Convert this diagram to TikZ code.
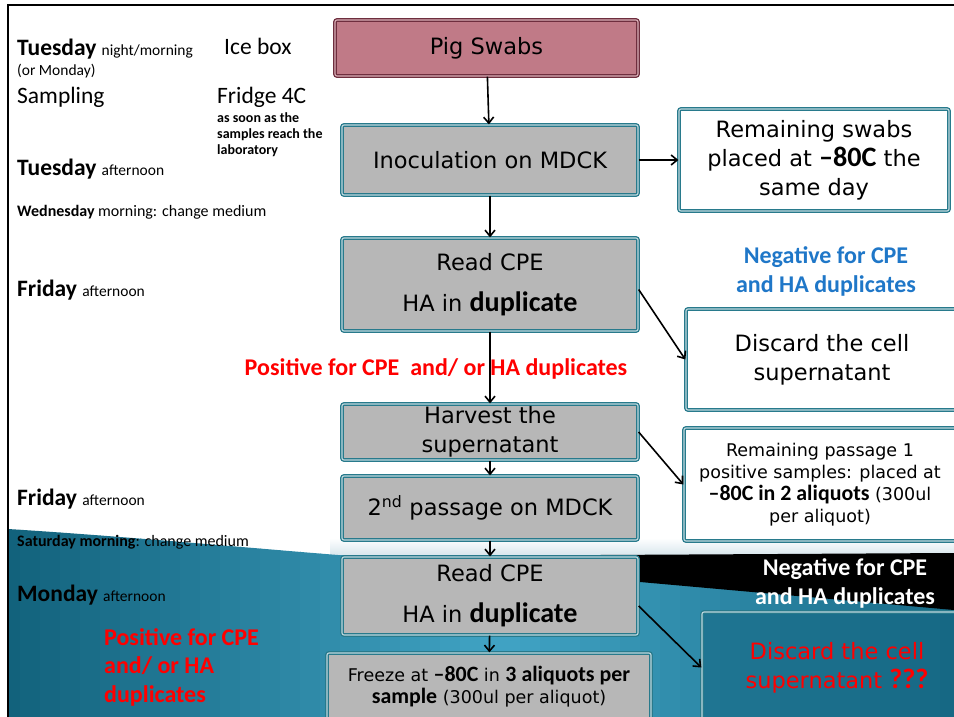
\documentclass[tikz,border=0pt]{standalone}
\usepackage{fontspec}
\setmainfont{Carlito}
\newfontfamily\boxfont{DejaVu Sans}
\newfontfamily\boldcal[Scale=1.25,Ligatures=TeX]{Carlito}
\usetikzlibrary{arrows.meta}

\definecolor{tealb}{RGB}{40,122,140}
\definecolor{boxgray}{RGB}{183,183,183}
\definecolor{swabfill}{RGB}{192,122,135}
\definecolor{swabline}{RGB}{110,46,62}
\definecolor{negblue}{RGB}{31,119,200}
\definecolor{bgdark}{RGB}{18,98,124}
\definecolor{bglight}{RGB}{66,165,198}
\definecolor{bgright}{RGB}{22,104,132}
\definecolor{posred}{RGB}{255,0,0}
\definecolor{paleband}{RGB}{214,229,236}

% bold Calibri-like words inside the boxes
\newcommand{\hb}[1]{{\boldcal\bfseries #1}}

\tikzset{
  stage/.style={draw=tealb, line width=1.3pt, double=white!70!tealb, double distance=1.1pt,
    fill=boxgray, rounded corners=2pt, align=center, inner sep=0pt,
    font=\boxfont\fontsize{22.5}{29}\selectfont},
  storebox/.style={stage, fill=white},
  smalltext/.style={font=\boxfont\fontsize{17.5}{22}\selectfont},
  day/.style={anchor=base west, inner sep=0pt, font=\fontsize{15.5}{18}\selectfont},
  bigday/.style={font=\fontsize{23.5}{26}\selectfont},
  note/.style={anchor=base, inner sep=0pt, font=\bfseries\fontsize{24}{28.5}\selectfont},
  arr/.style={line width=1.6pt, -{Straight Barb[length=6pt,width=10pt]}},
}

\newcommand{\dayname}[1]{{\fontsize{23.5}{26}\selectfont\bfseries #1}}

\begin{document}
\begin{tikzpicture}[x=1pt,y=-1pt]
\useasboundingbox (0,0) rectangle (954,717);

% slide background
\fill[white] (0,0) rectangle (954,717);
\shade[top color=white, bottom color=paleband] (330,538) rectangle (954,556);
\begin{scope}
  \clip (8,529) .. controls (120,536) and (250,548) .. (338,555) -- (954,555) -- (954,717) -- (8,717) -- cycle;
  % teal band, lighter towards the middle
  \foreach \i in {0,...,24} {
    \pgfmathsetmacro\p{\i*4}
    \fill[bglight!\p!bgdark] (\i*20,520) rectangle (\i*20+21,717);
  }
  \foreach \i in {25,...,48} {
    \pgfmathsetmacro\p{100-(\i-24)*4.2}
    \fill[bglight!\p!bgright] (\i*20,520) rectangle (\i*20+21,717);
  }
\end{scope}
\fill[black] (600,555) -- (954,553) -- (954,610) -- (640,582) -- cycle;
\draw[line width=2pt] (8,717) -- (8,5) -- (954,5);

% days on the left
\node[day] (tue1) at (17,56) {\dayname{Tuesday }night/morning};
\node[day] (ormon) at (17,76) {(or Monday)};
\node[day, bigday] (sampl) at (17,103) {Sampling};
\node[day, bigday] (icebox) at (224,55) {Ice box};
\node[day, bigday] (fridge) at (217,103) {Fridge 4C};
\node[day, anchor=north west, align=left, font=\bfseries\fontsize{14}{16}\selectfont] (asap) at (217,112)
  {as soon as the\\samples reach the\\laboratory};
\node[day] (tue2) at (17,175) {\dayname{Tuesday }afternoon};
\node[day, font=\fontsize{16}{18}\selectfont] (wed) at (17,216) {\textbf{Wednesday} morning: change medium};
\node[day] (fri1) at (17,296) {\dayname{Friday }afternoon};
\node[day] (fri2) at (17,505) {\dayname{Friday }afternoon};
\node[day, font=\fontsize{16}{18}\selectfont] (sat) at (17,546) {\textbf{Saturday morning}: change medium};
\node[day] (mon) at (17,601) {\dayname{Monday }afternoon};

% flow boxes
\node[stage, fill=swabfill, draw=swabline, double=swabfill!60!white, minimum width=303, minimum height=56]
  (swabs) at (486.5,48) {Pig Swabs};
\node[stage, minimum width=296, minimum height=70] (inoc) at (490,160) {Inoculation on MDCK};
\node[storebox, minimum width=270, minimum height=102] (remain1) at (814,160)
  {Remaining swabs\\placed at \hb{\textendash80C} the\\same day};
\node[stage, minimum width=296, minimum height=93] (read1) at (490,284.5) {Read CPE\\[12pt]HA in \hb{duplicate}};
\node[storebox, minimum width=272, minimum height=101] (disc1) at (822,359.5) {Discard the cell\\supernatant};
\node[stage, minimum width=296, minimum height=56] (harv) at (490,432) {Harvest the\\supernatant};
\node[storebox, smalltext, minimum width=272, minimum height=113] (remain2) at (820,484.5)
  {Remaining passage 1\\positive samples: placed at\\\hb{\textendash80C in 2 aliquots} (300ul\\per aliquot)};
\node[stage, minimum width=296, minimum height=64] (pass2) at (490,508) {2\textsuperscript{nd} passage on MDCK};
\node[stage, minimum width=296, minimum height=78] (read2) at (490,596) {Read CPE\\[12pt]HA in \hb{duplicate}};
\node[stage, smalltext, minimum width=324, minimum height=68] (freeze) at (489,687)
  {Freeze at \hb{\textendash80C} in \hb{3 aliquots per}\\\hb{sample} (300ul per aliquot)};
\node[stage, fill=bgright, fill opacity=0.6, text opacity=1, text=posred, minimum width=256, minimum height=111]
  (disc2) at (830,667.5) {\hspace*{14pt}Discard the cell\\\hspace*{14pt}supernatant \hb{???}};

% outcome notes
\node[note, text=negblue, align=center] (neg1) at (826,292) {Negative for CPE\\and HA duplicates};
\node[note, text=posred] (pos1) at (436,375) {Positive for CPE\ \ and/ or HA duplicates};
\node[note, text=white, align=center] (neg2) at (845,604) {Negative for CPE\\and HA duplicates};
\node[note, text=posred, anchor=base west, align=left] (pos2) at (104,702) {Positive for CPE\\and/ or HA\\duplicates};

% connectors
\draw[arr] (swabs) -- (inoc);
\draw[arr] (inoc) -- (remain1);
\draw[arr] (inoc) -- (read1);
\draw[arr] ([yshift=-5pt]read1.east) -- (disc1.west);
\draw[arr] (read1) -- (harv);
\draw[arr] (harv.east) -- (remain2.west);
\draw[arr] (harv) -- (pass2);
\draw[arr] (pass2) -- (read2);
\draw[arr] ([yshift=-10pt]read2.east) -- (disc2.west);
\draw[arr] (read2) -- (freeze);
\end{tikzpicture}
\end{document}
